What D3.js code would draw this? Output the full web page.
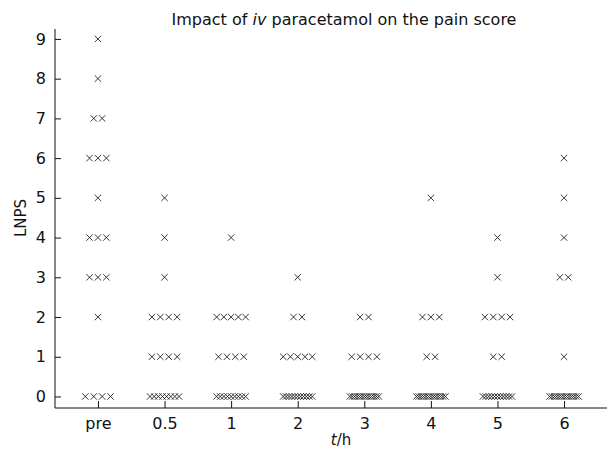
<!DOCTYPE html>
<html><head><meta charset="utf-8">
<script src="https://cdn.jsdelivr.net/npm/d3@7"></script>
<style>
body{margin:0;background:#fff;}
text{font-family:"DejaVu Sans",Verdana,sans-serif;fill:#111;}
</style></head>
<body><svg id="c" width="609" height="450"></svg>
<script>
// categories (time points) and y tick values
const categories = ["pre","0.5","1","2","3","4","5","6"];
const yTicks = [0,1,2,3,4,5,6,7,8,9];
// number of patients at each LNPS score 0..9, per time point
const countsPre = [4,0,1,3,3,1,3,2,1,1];
const counts05  = [8,4,4,1,1,1,0,0,0,0];
const counts1   = [9,4,5,0,1,0,0,0,0,0];
const counts2   = [11,5,2,1,0,0,0,0,0,0];
const counts3   = [13,4,2,0,0,0,0,0,0,0];
const counts4   = [13,2,3,0,0,1,0,0,0,0];
const counts5   = [11,2,4,1,1,0,0,0,0,0];
const counts6   = [13,1,0,2,1,1,1,0,0,0];
const allCounts = [countsPre,counts05,counts1,counts2,counts3,counts4,counts5,counts6];

const svg = d3.select("#c");
const mLeft = 55, mRight = 607, mTop = 29, mBottom = 408;
const x = d3.scalePoint().domain(categories).range([mLeft, mRight]).padding(0.645);
const y = d3.scaleLinear().domain([-0.29, 9.25]).range([mBottom, mTop]);

// axes
const yAxis = svg.append("g").attr("transform",`translate(${mLeft},0)`)
  .call(d3.axisLeft(y).tickValues(yTicks).tickSize(-6).tickPadding(9).tickFormat(d3.format("d")));
yAxis.select(".domain").attr("d",`M0,${mTop}V${mBottom}`).attr("stroke","#111");
const xAxis = svg.append("g").attr("transform",`translate(0,${mBottom})`)
  .call(d3.axisBottom(x).tickSize(-7).tickPadding(10));
xAxis.select(".domain").attr("d",`M${mLeft},0H${mRight}`).attr("stroke","#111");
svg.selectAll(".tick line").attr("stroke","#111");
svg.selectAll(".tick text").style("font-size","16px").style("font-family","'DejaVu Sans',Verdana,sans-serif").attr("fill","#111");

// points
const pts = [];
allCounts.forEach((arr, ci) => {
  arr.forEach((n, score) => {
    const s = n > 1 ? Math.min(8.4, 29/(n-1)) : 0;
    for (let i = 0; i < n; i++) pts.push({cat: categories[ci], score, off: (i-(n-1)/2)*s});
  });
});
const h = 3.2;
svg.append("g").selectAll("path").data(pts).join("path")
  .attr("d", d => {
    const cx = x(d.cat) + d.off, cy = y(d.score);
    return `M${cx-h},${cy-h}L${cx+h},${cy+h}M${cx-h},${cy+h}L${cx+h},${cy-h}`;
  })
  .attr("stroke","#222").attr("stroke-width",0.9).attr("fill","none");

// title & labels
const title = svg.append("text").attr("x",344).attr("y",25).attr("text-anchor","middle").style("font-size","16px");
title.append("tspan").text("Impact of ");
title.append("tspan").attr("font-style","italic").text("iv");
title.append("tspan").text(" paracetamol on the pain score");

svg.append("text").attr("transform","translate(26,218) rotate(-90)").attr("text-anchor","middle").style("font-size","15px").text("LNPS");
const xl = svg.append("text").attr("x",341).attr("y",445).attr("text-anchor","middle").style("font-size","15px");
xl.append("tspan").attr("font-style","italic").text("t");
xl.append("tspan").text("/h");
</script></body></html>
